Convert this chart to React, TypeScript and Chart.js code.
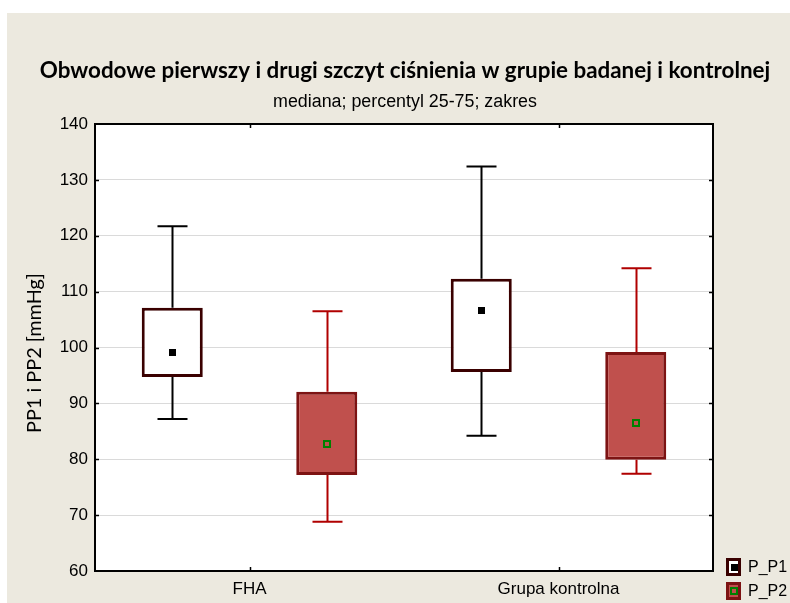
import React, { useEffect, useRef } from 'react';
import { Chart, registerables } from 'chart.js';

Chart.register(...registerables);

const titleText = 'Obwodowe pierwszy i drugi szczyt ciśnienia w grupie badanej i kontrolnej';
const subtitleText = 'mediana; percentyl 25-75; zakres';
const yAxisTitle = 'PP1 i PP2 [mmHg]';

const categories = ['FHA', 'Grupa kontrolna'];
const seriesNames = ['P_P1', 'P_P2'];

const p1Min = [87.2, 84.2];
const p1Q1 = [94.7, 95.6];
const p1Median = [99.2, 106.7];
const p1Q3 = [107.1, 112.3];
const p1Max = [121.7, 132.4];

const p2Min = [68.8, 77.4];
const p2Q1 = [77.2, 79.9];
const p2Median = [82.8, 86.5];
const p2Q3 = [92.1, 99.2];
const p2Max = [106.5, 114.2];

const yMin = 60;
const yMax = 140;
const yStep = 10;

const SANS = '"Liberation Sans", Arial, sans-serif';
const HUMANIST = 'Lato, "Open Sans", sans-serif';

function fitSize(ctx: CanvasRenderingContext2D, text: string, weight: string, family: string, target: number) {
  ctx.font = `${weight} 100px ${family}`;
  const w = ctx.measureText(text).width;
  return (100 * target) / w;
}

export default function App() {
  const ref = useRef<HTMLCanvasElement>(null);

  useEffect(() => {
    if (!ref.current) return;

    const styles = [
      { min: p1Min, med: p1Median, max: p1Max, q1: p1Q1, whisker: '#000000', fill: '#ffffff', border: '#3a0000', marker: 'solid' },
      { min: p2Min, med: p2Median, max: p2Max, q1: p2Q1, whisker: '#b00000', fill: '#c0504d', border: '#7d1313', marker: 'hollow' },
    ];

    const drawMarker = (ctx: CanvasRenderingContext2D, x: number, y: number, kind: string) => {
      if (kind === 'solid') {
        ctx.fillStyle = '#000000';
        ctx.fillRect(Math.round(x) - 3, Math.round(y) - 3, 7, 7);
      } else {
        ctx.strokeStyle = '#008000';
        ctx.lineWidth = 2;
        ctx.strokeRect(Math.round(x) - 3, Math.round(y) - 3, 6, 6);
      }
    };

    const bgPlugin = {
      id: 'bg',
      beforeDraw(chart: any) {
        const ctx = chart.ctx as CanvasRenderingContext2D;
        const a = chart.chartArea;
        ctx.save();
        ctx.fillStyle = '#ffffff';
        ctx.fillRect(0, 0, chart.width, chart.height);
        ctx.fillStyle = '#ece9df';
        ctx.fillRect(7, 13, chart.width - 7, chart.height - 13);
        ctx.fillStyle = '#ffffff';
        ctx.fillRect(a.left, a.top, a.right - a.left, a.bottom - a.top);
        ctx.restore();
      },
    };

    const boxPlugin = {
      id: 'box',
      afterDatasetsDraw(chart: any) {
        const ctx = chart.ctx as CanvasRenderingContext2D;
        const ys = chart.scales.y;
        ctx.save();
        styles.forEach((s, d) => {
          const meta = chart.getDatasetMeta(d);
          meta.data.forEach((el: any, i: number) => {
            const x = Math.round(el.x) + 0.5;
            const yMaxP = ys.getPixelForValue(s.max[i]);
            const yMinP = ys.getPixelForValue(s.min[i]);
            const yTop = ys.getPixelForValue(chart.data.datasets[d].data[i][1]);
            const yBot = ys.getPixelForValue(chart.data.datasets[d].data[i][0]);
            ctx.strokeStyle = s.whisker;
            ctx.lineWidth = 2;
            ctx.beginPath();
            ctx.moveTo(x, yTop);
            ctx.lineTo(x, yMaxP);
            ctx.moveTo(x - 15, yMaxP);
            ctx.lineTo(x + 15, yMaxP);
            ctx.moveTo(x, yBot);
            ctx.lineTo(x, yMinP);
            ctx.moveTo(x - 15, yMinP);
            ctx.lineTo(x + 15, yMinP);
            ctx.stroke();
            drawMarker(ctx, el.x, ys.getPixelForValue(s.med[i]), s.marker);
          });
        });
        ctx.restore();
      },
      afterDraw(chart: any) {
        const ctx = chart.ctx as CanvasRenderingContext2D;
        const a = chart.chartArea;
        const ys = chart.scales.y;
        const xs = chart.scales.x;
        ctx.save();
        // frame
        ctx.strokeStyle = '#000000';
        ctx.lineWidth = 2;
        ctx.strokeRect(a.left, a.top, a.right - a.left, a.bottom - a.top);
        ctx.lineWidth = 1.5;
        ctx.beginPath();
        categories.forEach((_, i) => {
          const x = Math.round(xs.getPixelForValue(i)) + 0.5;
          ctx.moveTo(x, a.top);
          ctx.lineTo(x, a.top + 4);
          ctx.moveTo(x, a.bottom);
          ctx.lineTo(x, a.bottom - 4);
        });
        for (let v = yMin + yStep; v < yMax; v += yStep) {
          const y = Math.round(ys.getPixelForValue(v)) + 0.5;
          ctx.moveTo(a.left, y);
          ctx.lineTo(a.left + 4, y);
          ctx.moveTo(a.right, y);
          ctx.lineTo(a.right - 4, y);
        }
        ctx.stroke();

        // titles
        ctx.fillStyle = '#000000';
        ctx.textAlign = 'center';
        ctx.textBaseline = 'alphabetic';
        const ts = fitSize(ctx, titleText, 'bold', HUMANIST, 731);
        ctx.font = `bold ${ts}px ${HUMANIST}`;
        ctx.fillText(titleText, 405, 78);
        const ss = fitSize(ctx, subtitleText, 'normal', SANS, 264);
        ctx.font = `normal ${ss}px ${SANS}`;
        ctx.fillText(subtitleText, 405, 107);

        const ys2 = fitSize(ctx, yAxisTitle, 'normal', HUMANIST, 160);
        ctx.save();
        ctx.translate(35, 353);
        ctx.rotate(-Math.PI / 2);
        ctx.font = `normal ${ys2}px ${HUMANIST}`;
        ctx.textBaseline = 'middle';
        ctx.fillText(yAxisTitle, 0, 0);
        ctx.restore();

        // legend
        const legendY = [558, 582];
        seriesNames.forEach((name, d) => {
          const s = styles[d];
          const y = legendY[d];
          ctx.fillStyle = s.fill;
          ctx.fillRect(726, y, 15, 18);
          ctx.strokeStyle = s.border;
          ctx.lineWidth = 3;
          ctx.strokeRect(727.5, y + 1.5, 12, 15);
          drawMarker(ctx, 733.5, y + 9, s.marker);
          ctx.fillStyle = '#000000';
          ctx.font = `16px ${SANS}`;
          ctx.textAlign = 'left';
          ctx.textBaseline = 'middle';
          ctx.fillText(name, 748, y + 9.5);
        });
        ctx.restore();
      },
    };

    const chart = new Chart(ref.current, {
      type: 'bar',
      data: {
        labels: categories,
        datasets: [
          {
            label: seriesNames[0],
            data: p1Q1.map((q, i) => [q, p1Q3[i]]),
            backgroundColor: styles[0].fill,
            borderColor: styles[0].border,
            borderWidth: 3,
            borderSkipped: false,
            categoryPercentage: 1,
            barPercentage: 0.395,
          },
          {
            label: seriesNames[1],
            data: p2Q1.map((q, i) => [q, p2Q3[i]]),
            backgroundColor: styles[1].fill,
            borderColor: styles[1].border,
            borderWidth: 3,
            borderSkipped: false,
            categoryPercentage: 1,
            barPercentage: 0.395,
          },
        ],
      } as any,
      options: {
        responsive: false,
        animation: false,
        devicePixelRatio: 1,
        layout: { padding: { left: 0, top: 124, right: 77, bottom: 0 } },
        plugins: {
          legend: { display: false },
          title: { display: false },
          tooltip: { enabled: false },
        },
        scales: {
          x: {
            grid: { display: false, drawTicks: false },
            border: { display: false },
            ticks: { color: '#000000', font: { family: SANS, size: 17 }, padding: 8 },
            afterFit: (s: any) => {
              s.height = 32;
            },
          },
          y: {
            min: yMin,
            max: yMax,
            ticks: { stepSize: yStep, color: '#000000', font: { family: SANS, size: 17 }, padding: 7 },
            grid: { color: '#dadada', lineWidth: 1, drawTicks: false },
            border: { display: false },
            afterFit: (s: any) => {
              s.width = 95;
            },
          },
        },
      } as any,
      plugins: [bgPlugin, boxPlugin],
    });

    return () => chart.destroy();
  }, []);

  return (
    <div style={{ position: 'fixed', left: 0, top: 0, width: 790, height: 603 }}>
      <canvas ref={ref} width={790} height={603} style={{ display: 'block', width: 790, height: 603 }} />
    </div>
  );
}
